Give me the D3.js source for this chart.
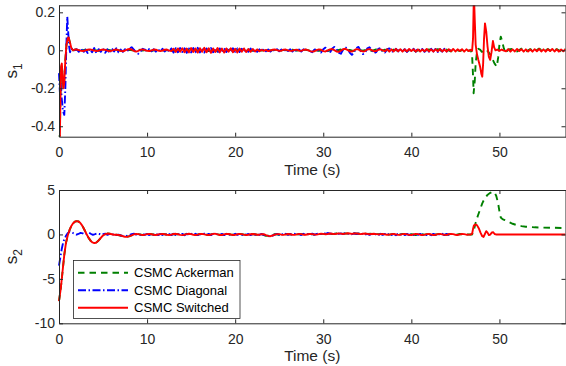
<!DOCTYPE html>
<html>
<head>
<meta charset="utf-8">
<script src="https://cdn.jsdelivr.net/npm/d3@7"></script>
<style>
body { margin: 0; background: #fff; }
svg { display: block; font-family: "Liberation Sans", Arial, sans-serif; }
</style>
</head>
<body>
<svg id="chart" width="566" height="366"></svg>
<script>
// legend names
var seriesNames = ["CSMC Ackerman", "CSMC Diagonal", "CSMC Switched"];

// ---- s1 (upper plot) ----
var s1Ticks = [-0.4, -0.2, 0, 0.2];
var s1AckermanHead = [[0,-0.48],[0.1,-0.44],[0.18,-0.2],[0.25,-0.09],[0.32,-0.08],[0.4,-0.14],[0.5,-0.2],[0.6,-0.16],[0.72,-0.05],[0.85,0.03],[1.0,0.06],[1.1,0.065],[1.25,0.04],[1.4,0.01],[1.6,0.0],[1.8,0.004]];
// every 0.5 s from t = 2
var s1AckermanNoise = [0.002,-0.002,0.003,-0.001,0.002,-0.003,0.001,0.003,-0.002,0.002,-0.003,0.001,0.002,-0.002,0.003,-0.001,0.002,-0.003,0.001,0.002,
  -0.002,0.003,-0.004,0.005,-0.004,0.006,-0.005,0.004,-0.006,0.005,-0.004,0.005,-0.006,0.004,-0.005,0.006,-0.004,0.005,-0.003,0.004,
  -0.003,0.002,-0.002,0.003,-0.001,0.002,-0.003,0.002,-0.001,0.003,-0.002,0.001,0.003,-0.002,0.002,-0.003,0.001,-0.004,0.003,-0.002,
  0.004,-0.003,0.002,-0.004,0.003,-0.002,0.004,-0.003,0.005,-0.004,0.003,-0.005,0.004,-0.003,0.005,-0.004,0.003,-0.005,0.004,-0.003,
  0.005,-0.004,0.006,-0.005,0.004,-0.006,0.005,-0.004,0.006,-0.003];
var s1AckermanEvent = [[46.75,0.003],[46.9,-0.03],[47.0,-0.13],[47.07,-0.226],[47.2,-0.16],[47.3,-0.07],[47.45,-0.01],[47.6,0.008],[47.8,0.004],[48.0,-0.008],[48.2,-0.004],[48.4,0.005],[48.6,0.0],[48.8,-0.012],[49.0,-0.025],[49.2,-0.045],[49.45,-0.07],[49.7,-0.086],[49.85,-0.04],[50.0,0.03],[50.15,0.072],[50.3,0.05],[50.5,0.01],[50.7,-0.016],[50.85,-0.006],[51.0,0.004]];
// every 0.5 s from t = 51.5
var s1AckermanTail = [0.008,-0.006,0.009,-0.007,0.006,-0.008,0.009,-0.006,0.007,-0.009,0.006,-0.007,0.008];

var s1DiagonalHead = [[0,-0.12],[0.1,-0.22],[0.2,-0.17],[0.3,-0.25],[0.45,-0.32],[0.6,-0.34],[0.72,-0.2],[0.82,0.0],[0.94,0.177],[1.05,0.09],[1.15,0.02],[1.25,-0.01],[1.4,0.01],[1.6,0.005],[1.8,0.0]];
// every 0.25 s from t = 2
var s1DiagonalNoise = [0.006,-0.008,0.010,-0.012,0.004,-0.014,0.008,-0.010,0.012,-0.016,0.006,-0.008,0.010,-0.013,0.005,-0.016,0.009,-0.006,0.011,-0.010,
  0.004,-0.008,0.006,-0.004,0.010,0.016,0.004,-0.012,-0.018,-0.006,0.008,0.004,-0.006,0.007,-0.005,0.006,-0.007,0.005,-0.006,0.008,
  -0.006,0.007,-0.008,0.010,-0.012,0.011,-0.010,0.012,-0.009,0.011,-0.013,0.010,-0.011,0.012,-0.010,0.013,-0.011,0.009,-0.012,0.010,
  -0.011,0.012,-0.010,0.011,-0.013,0.010,-0.012,0.011,-0.009,0.012,-0.010,0.011,-0.008,0.010,-0.009,0.008,-0.010,0.007,-0.008,0.009,
  -0.007,0.006,-0.008,0.005,-0.006,0.007,-0.005,0.004,-0.006,0.005,-0.004,0.006,-0.005,0.004,-0.006,0.005,-0.004,0.005,-0.006,0.004,
  -0.005,0.004,-0.006,0.005,-0.004,0.006,-0.005,-0.010,0.004,0.008,-0.006,-0.012,0.006,0.014,-0.004,-0.014,0.008,0.018,0.006,-0.012,
  -0.018,0.004,0.016,0.010,-0.012,-0.024,-0.010,0.012,0.018,-0.004,-0.020,-0.012,0.010,0.016,0.002,-0.016,-0.010,0.008,0.012,-0.006,
  -0.012,0.006,0.010,-0.004,-0.010,0.008,-0.006,0.009,-0.008,0.006,-0.009,0.007,-0.006,0.008,-0.007,0.009,-0.006,0.007,-0.008,0.006,
  -0.007,0.008,-0.006,0.007,-0.009,0.006,-0.007,0.008,-0.006,0.005,-0.004];

var s1SwitchedHead = [[0,-0.5],[0.1,-0.46],[0.18,-0.2],[0.25,-0.08],[0.32,-0.07],[0.4,-0.13],[0.5,-0.2],[0.6,-0.17],[0.72,-0.05],[0.85,0.03],[1.0,0.065],[1.1,0.068],[1.25,0.04],[1.4,0.012],[1.6,0.0],[1.8,0.004]];
// every 0.25 s from t = 2
var s1SwitchedNoise = [0.004,0.001,-0.003,-0.004,0.000,0.003,0.005,0.002,-0.002,-0.004,-0.002,0.002,0.004,0.002,-0.002,-0.005,-0.002,0.002,0.004,0.001,
  -0.003,-0.005,-0.001,0.004,0.007,0.004,-0.003,-0.007,-0.003,0.003,0.005,0.001,-0.003,-0.004,0.000,0.004,0.003,-0.002,-0.004,-0.001,
  0.003,0.004,-0.002,-0.004,0.008,-0.009,0.010,-0.008,0.011,-0.010,0.009,-0.011,0.012,-0.009,0.010,-0.012,0.011,-0.008,0.013,-0.010,
  0.011,-0.013,0.010,-0.009,0.012,-0.011,0.009,-0.012,0.010,-0.008,0.011,-0.010,0.008,-0.011,0.009,-0.008,0.010,-0.009,0.007,-0.008,
  0.007,-0.006,0.005,-0.005,0.003,-0.003,0.002,-0.004,-0.001,0.003,0.004,0.001,-0.003,-0.002,0.003,0.004,0.000,-0.003,-0.002,0.002,
  0.003,-0.002,-0.003,0.002,0.004,0.001,-0.004,-0.007,-0.005,0.001,0.005,0.003,-0.004,-0.006,0.000,0.005,0.007,0.001,-0.006,-0.008,
  -0.002,0.006,0.008,0.002,-0.005,-0.007,0.000,0.006,0.005,-0.003,-0.006,-0.004,0.004,0.006,0.001,-0.005,-0.004,0.003,0.005,0.000,
  -0.005,0.006,-0.007,0.005,-0.006,0.007,-0.005,0.006,-0.007,0.005,-0.006,0.007,-0.004,0.006,-0.007,0.005,-0.006,0.004,-0.005,0.007,
  -0.006,0.005,-0.007,0.006,-0.005,0.007,-0.006,0.004,-0.007,0.006,-0.005,0.007,-0.006,0.005,-0.004,0.006,-0.007,0.005,-0.004,0.002];
var s1SwitchedEvent = [[46.9,-0.002],[47.0,0.06],[47.1,0.30],[47.2,0.16],[47.3,0.03],[47.45,-0.02],[47.6,-0.05],[47.8,-0.085],[47.95,-0.125],[48.05,-0.139],[48.15,-0.07],[48.25,0.06],[48.36,0.142],[48.5,0.10],[48.65,0.02],[48.8,-0.034],[48.95,-0.05],[49.1,-0.01],[49.26,0.049],[49.4,0.015],[49.55,0.0],[49.75,0.004],[50.0,-0.003],[50.25,0.004],[50.5,-0.002]];
// every 0.25 s from t = 50.75
var s1SwitchedTail = [-0.005,0.006,-0.007,0.005,-0.006,0.007,-0.004,0.006,-0.007,0.005,-0.006,0.004,-0.007,0.006,-0.005,0.007,-0.006,0.005,-0.007,0.006,-0.004,0.007,-0.006,0.005,-0.007,0.004,-0.005,0.006];

// ---- s2 (lower plot) ----
var s2Ticks = [-10, -5, 0, 5];
var s2AckermanHead = [[0,-7.5],[0.2,-6.1],[0.4,-4.2],[0.6,-2.3],[0.8,-0.9],[1.0,-0.1],[1.2,0.5],[1.4,0.95],[1.6,1.25],[1.8,1.43],[2.0,1.5],[2.2,1.47],[2.4,1.32],[2.6,1.05],[2.8,0.7],[3.0,0.3],[3.2,-0.1],[3.4,-0.45],[3.6,-0.72],[3.8,-0.9],[4.0,-0.97],[4.2,-0.93],[4.4,-0.78],[4.6,-0.55],[4.8,-0.32],[5.0,-0.12],[5.25,0.03],[5.5,0.1],[5.75,0.08],[6.0,0.02]];
// every 0.5 s from t = 6.5
var s2AckermanNoise = [-0.04,-0.12,-0.26,-0.20,0.00,0.04,-0.06,0.03,0.02,-0.06,0.04,0.02,-0.07,0.05,0.02,-0.08,0.04,0.03,-0.07,0.05,
  0.01,-0.07,0.06,0.01,-0.06,0.06,-0.01,-0.05,0.06,-0.02,-0.04,0.05,-0.04,0.03,-0.16,-0.12,0.04,-0.03,0.01,0.05,
  -0.04,0.01,0.03,-0.04,0.06,-0.01,0.06,0.06,0.10,0.04,0.12,0.05,0.12,0.08,0.10,0.07,0.10,0.06,0.08,0.04,
  0.03,0.01,-0.02,0.05,-0.05,0.06,-0.05,0.03,-0.06,0.05,-0.02,0.05,-0.06,0.03,0.06,-0.05,0.06,-0.06,0.05,0.00,
  0.00];
var s2AckermanEvent = [[46.9,0.0],[47.05,0.3],[47.3,1.3],[47.55,2.1],[47.8,2.8],[48.05,3.5],[48.3,4.0],[48.6,4.4],[48.9,4.65],[49.2,4.78],[49.45,4.72],[49.65,4.3],[49.85,3.5],[50.0,2.6],[50.15,1.9],[50.35,1.72],[50.6,1.62],[51.0,1.42],[51.5,1.2],[52.0,1.04],[52.5,0.94],[53.0,0.87],[54.0,0.8],[55.0,0.77],[56.0,0.75],[57.5,0.72]];

var s2DiagonalHead = [[0,-3.5],[0.15,-2.6],[0.3,-1.7],[0.45,-1.0],[0.6,-0.55],[0.8,-0.15],[1.0,0.15],[1.2,0.33],[1.4,0.3],[1.6,0.15],[1.8,0.05],[2.0,-0.03],[2.2,0.05],[2.45,0.17],[2.7,0.12],[2.95,-0.02],[3.2,0.1],[3.4,0.2],[3.6,0.08],[3.85,-0.05],[4.1,0.03],[4.35,0.12],[4.6,0.05],[4.85,-0.04]];
// every 0.25 s from t = 5
var s2DiagonalNoise = [0.02,0.08,-0.04,0.06,-0.06,0.05,-0.08,-0.02,-0.12,-0.18,-0.22,-0.14,-0.06,0.04,0.08,-0.02,0.06,-0.05,0.07,-0.04,
  0.06,-0.07,0.08,-0.05,0.07,-0.08,0.06,-0.06,0.09,-0.07,0.05,-0.08,0.07,-0.06,0.08,-0.05,0.06,-0.09,0.07,-0.05,
  0.08,-0.06,0.07,-0.08,0.05,-0.07,0.09,-0.06,0.06,-0.08,0.07,-0.05,0.08,-0.07,0.06,-0.08,0.07,-0.06,0.05,-0.07,
  0.08,-0.05,0.06,-0.08,0.07,-0.06,0.05,-0.07,0.06,-0.05,0.07,-0.06,0.05,-0.04,-0.12,-0.18,-0.22,-0.12,-0.02,0.06,
  -0.05,0.07,-0.06,0.08,-0.05,0.06,-0.08,0.07,-0.05,0.06,-0.07,0.08,-0.06,0.05,-0.07,0.09,-0.05,0.06,0.12,0.04,
  0.14,0.06,0.16,0.08,0.13,0.04,0.15,0.07,0.12,0.03,0.14,0.06,0.11,0.02,0.13,0.05,0.10,0.01,0.09,-0.02,
  0.07,-0.04,0.06,-0.06,0.05,-0.08,0.07,-0.05,0.06,-0.07,0.08,-0.06,0.05,-0.09,0.07,-0.05,0.08,-0.07,0.06,-0.08,
  0.07,-0.06,0.09,-0.05,0.06,-0.08,0.07,-0.07,0.05,-0.09,0.06,-0.06,0.08,-0.05,0.07,-0.07,0.06,-0.05,0.03];

var s2SwitchedHead = [[0,-7.5],[0.2,-6.1],[0.4,-4.2],[0.6,-2.3],[0.8,-0.9],[1.0,-0.1],[1.2,0.5],[1.4,0.95],[1.6,1.25],[1.8,1.43],[2.0,1.5],[2.2,1.47],[2.4,1.32],[2.6,1.05],[2.8,0.7],[3.0,0.3],[3.2,-0.1],[3.4,-0.45],[3.6,-0.72],[3.8,-0.9],[4.0,-0.97],[4.2,-0.93],[4.4,-0.78],[4.6,-0.55],[4.8,-0.32],[5.0,-0.12],[5.25,0.03],[5.5,0.1],[5.75,0.08],[6.0,0.02],[6.25,-0.04]];
// every 0.25 s from t = 6.5
var s2SwitchedNoise = [-0.04,-0.06,-0.12,-0.20,-0.26,-0.28,-0.20,-0.10,0.00,0.05,0.04,-0.02,-0.06,-0.03,0.03,0.06,0.02,-0.04,-0.06,-0.01,
  0.04,0.06,0.02,-0.04,-0.07,-0.02,0.05,0.07,0.02,-0.05,-0.08,-0.03,0.04,0.08,0.03,-0.04,-0.07,-0.02,0.05,0.06,
  0.01,-0.05,-0.07,-0.01,0.06,0.07,0.01,-0.06,-0.06,0.00,0.06,0.05,-0.01,-0.06,-0.05,0.02,0.06,0.04,-0.02,-0.06,
  -0.04,0.02,0.05,0.02,-0.04,-0.03,0.03,0.02,-0.08,-0.16,-0.20,-0.12,-0.02,0.04,0.03,-0.03,-0.05,0.01,0.05,0.02,
  -0.04,-0.05,0.01,0.05,0.03,-0.03,-0.04,0.02,0.06,0.04,-0.01,-0.02,0.04,0.08,0.06,0.02,0.05,0.10,0.08,0.04,
  0.08,0.12,0.09,0.05,0.09,0.13,0.10,0.06,0.10,0.12,0.08,0.04,0.07,0.10,0.06,0.02,0.05,0.08,0.04,0.00,
  0.03,0.05,0.01,-0.04,-0.02,0.03,0.05,0.00,-0.05,-0.03,0.03,0.06,0.01,-0.05,-0.06,0.00,0.05,0.03,-0.03,-0.06,
  -0.02,0.04,0.05,-0.01,-0.06,-0.04,0.03,0.06,0.01,-0.05,-0.05,0.02,0.06,0.03,-0.04,-0.06,0.00,0.05,0.03,-0.03,
  -0.02];
var s2SwitchedEvent = [[46.75,0.0],[46.9,0.08],[47.0,0.6],[47.1,1.0],[47.25,1.12],[47.45,1.05],[47.65,0.7],[47.85,0.2],[48.05,-0.2],[48.2,-0.28],[48.35,0.05],[48.5,0.37],[48.65,0.2],[48.8,-0.08],[48.95,-0.02],[49.15,0.22],[49.3,0.25],[49.45,0.05],[49.6,0.0],[57.5,0.0]];

// ---------------------------------------------------------------

function onGrid(t0, step, values) {
    return values.map(function(v, i) { return [t0 + i * step, v]; });
}
function joinParts() {
    var all = [];
    for (var i = 0; i < arguments.length; i++) all = all.concat(arguments[i]);
    return all.sort(function(a, b) { return a[0] - b[0]; });
}

var colors = ["#008000", "#0000ff", "#ff0000"];
var dashes = ["6.5,5", "8,2.5,1.5,2.5", null];
var axisColor = "#262626";

var svg = d3.select("#chart"),
    width = +svg.attr("width"),
    height = +svg.attr("height");

var plotLeft = 59, plotRight = 565.5;

var x = d3.scaleLinear().domain([0, 57.5]).range([plotLeft, plotRight]);

var panels = [
    {
        top: 5.3, bottom: 136.7, domain: [-0.455, 0.237], ticks: s1Ticks, sub: "1",
        series: [
            joinParts(s1AckermanHead, onGrid(2, 0.5, s1AckermanNoise), s1AckermanEvent, onGrid(51.5, 0.5, s1AckermanTail)),
            joinParts(s1DiagonalHead, onGrid(2, 0.25, s1DiagonalNoise)),
            joinParts(s1SwitchedHead, onGrid(2, 0.25, s1SwitchedNoise), s1SwitchedEvent, onGrid(50.75, 0.25, s1SwitchedTail))
        ]
    },
    {
        top: 190, bottom: 323.3, domain: [-10, 5], ticks: s2Ticks, sub: "2",
        series: [
            joinParts(s2AckermanHead, onGrid(6.5, 0.5, s2AckermanNoise), s2AckermanEvent),
            joinParts(s2DiagonalHead, onGrid(5, 0.25, s2DiagonalNoise)),
            joinParts(s2SwitchedHead, onGrid(6.5, 0.25, s2SwitchedNoise), s2SwitchedEvent)
        ]
    }
];

panels.forEach(function(p, k) {
    var y = d3.scaleLinear().domain(p.domain).range([p.bottom, p.top]);
    var g = svg.append("g");

    g.append("clipPath").attr("id", "clip" + k)
        .append("rect")
        .attr("x", plotLeft - 1).attr("y", p.top)
        .attr("width", plotRight - plotLeft + 1).attr("height", p.bottom - p.top);

    var line = d3.line()
        .x(function(d) { return x(d[0]); })
        .y(function(d) { return y(d[1]); });

    g.append("g").attr("clip-path", "url(#clip" + k + ")")
        .selectAll("path")
        .data(p.series)
        .enter().append("path")
        .attr("d", line)
        .attr("fill", "none")
        .attr("stroke", function(d, i) { return colors[i]; })
        .attr("stroke-width", 1.9)
        .attr("stroke-linejoin", "round")
        .attr("stroke-dasharray", function(d, i) { return dashes[i]; });

    // MATLAB style box with inward ticks
    g.append("g")
        .attr("transform", "translate(0," + p.bottom + ")")
        .call(d3.axisBottom(x).tickValues([0, 10, 20, 30, 40, 50]).tickSizeInner(-4).tickSizeOuter(0).tickPadding(10.5));
    g.append("g")
        .attr("transform", "translate(0," + p.top + ")")
        .call(d3.axisTop(x).tickValues([0, 10, 20, 30, 40, 50]).tickSizeInner(-4).tickSizeOuter(0).tickFormat(""));
    g.append("g")
        .attr("transform", "translate(" + plotLeft + ",0)")
        .call(d3.axisLeft(y).tickValues(p.ticks).tickSizeInner(-4).tickSizeOuter(0).tickPadding(4)
            .tickFormat(function(d) { return String(d); }));
    g.append("g")
        .attr("transform", "translate(" + plotRight + ",0)")
        .call(d3.axisRight(y).tickValues(p.ticks).tickSizeInner(-4).tickSizeOuter(0).tickFormat(""));

    g.selectAll(".domain, .tick line").attr("stroke", axisColor);
    g.selectAll(".tick text").attr("fill", axisColor).style("font-size", "14px")
        .style("font-family", "'Liberation Sans', Arial, sans-serif");

    g.append("text")
        .attr("x", (plotLeft + plotRight) / 2)
        .attr("y", p.bottom + 38)
        .attr("text-anchor", "middle")
        .attr("fill", axisColor)
        .style("font-size", "15.5px")
        .text("Time (s)");

    var yl = g.append("text")
        .attr("transform", "translate(17," + (p.top + p.bottom) / 2 + ") rotate(-90)")
        .attr("text-anchor", "middle")
        .attr("fill", axisColor)
        .style("font-size", "17px");
    yl.append("tspan").text("s");
    yl.append("tspan").attr("dy", 5).style("font-size", "12px").text(p.sub);
});

// legend in lower plot
var legend = svg.append("g");
legend.append("rect")
    .attr("x", 73.5).attr("y", 260.5)
    .attr("width", 166.5).attr("height", 58)
    .attr("fill", "#fff")
    .attr("stroke", axisColor)
    .attr("stroke-width", 0.8);

var rows = legend.selectAll("g.row")
    .data(seriesNames)
    .enter().append("g")
    .attr("class", "row")
    .attr("transform", function(d, i) { return "translate(0," + (272.7 + i * 17.5) + ")"; });

rows.append("line")
    .attr("x1", 78).attr("x2", 128)
    .attr("stroke", function(d, i) { return colors[i]; })
    .attr("stroke-width", 1.9)
    .attr("stroke-dasharray", function(d, i) { return dashes[i]; });

rows.append("text")
    .attr("x", 134)
    .attr("dy", "0.35em")
    .attr("fill", "#000")
    .style("font-size", "13px")
    .text(function(d) { return d; });
</script>
</body>
</html>
